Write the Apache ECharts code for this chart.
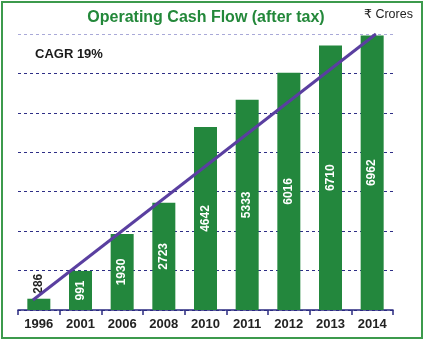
<!DOCTYPE html>
<html>
<head>
<meta charset="utf-8">
<script src="https://cdn.jsdelivr.net/npm/echarts@6/dist/echarts.min.js"></script>
<style>
html,body{margin:0;padding:0;background:#fff;}
#chart{width:425px;height:342px;}
</style>
</head>
<body>
<div id="chart"></div>
<script>
const categories = ['1996','2001','2006','2008','2010','2011','2012','2013','2014'];
const cashFlow = [286, 991, 1930, 2723, 4642, 5333, 6016, 6710, 6962];
const trendX = [-0.14, 8.09];
const trendY = [254, 7000];
const titleText = 'Operating Cash Flow (after tax)';
const unitText = '₹ Crores';
const cagrText = 'CAGR 19%';

const FONT = '"Liberation Sans", Arial, "DejaVu Sans", sans-serif';
const chart = echarts.init(document.getElementById('chart'), null, {renderer: 'canvas'});

const gridColors = ['#2e2e86','#2e2e86','#2e2e86','#2e2e86','#2e2e86','#2e2e86','#2e2e86','#a9a9d8'];

const barData = cashFlow.map((v, i) => i === 0 ? {
  value: v,
  label: {position: 'top', color: '#222', align: 'left', verticalAlign: 'middle', distance: 5}
} : v);

chart.setOption({
  animation: false,
  backgroundColor: '#ffffff',
  title: [
    {text: titleText, left: 206, textAlign: 'center', top: 10, padding: 0,
     textStyle: {color: '#23883a', fontSize: 16, fontWeight: 'bold', fontFamily: FONT}},
    {text: unitText, left: 364, top: 8, padding: 0,
     textStyle: {color: '#222', fontSize: 12.5, fontWeight: 'normal', fontFamily: FONT}},
    {text: cagrText, left: 35, top: 48, padding: 0,
     textStyle: {color: '#1a1a1a', fontSize: 13, fontWeight: 'bold', fontFamily: FONT}}
  ],
  graphic: [{
    type: 'rect', shape: {x: 2, y: 2, width: 420, height: 336},
    style: {fill: 'none', stroke: '#3c9a4c', lineWidth: 2}, silent: true, z: 100
  }],
  grid: {left: 18, right: 32, top: 34, bottom: 32},
  xAxis: [
    {type: 'category', data: categories, boundaryGap: true,
     axisLine: {lineStyle: {color: '#2a2a80', width: 1.5}},
     axisTick: {show: true, length: 5, lineStyle: {color: '#2a2a80', width: 1.5}},
     axisLabel: {color: '#222', fontSize: 13, fontWeight: 'bold', fontFamily: FONT, margin: 8},
     splitLine: {show: false}},
    {type: 'value', min: -0.5, max: 8.5, show: false}
  ],
  yAxis: {type: 'value', min: 0, max: 7000, interval: 1000,
    axisLine: {show: false}, axisTick: {show: false}, axisLabel: {show: false},
    splitLine: {show: true, lineStyle: {color: gridColors, type: [3, 3], width: 1}}},
  series: [
    {type: 'bar', data: barData, barWidth: 23, xAxisIndex: 0,
     itemStyle: {color: '#23873d'},
     label: {show: true, position: 'inside', rotate: 90, color: '#fff',
       fontSize: 12, fontWeight: 'bold', fontFamily: FONT},
     z: 2},
    {type: 'line', xAxisIndex: 1, data: trendX.map((x, i) => [x, trendY[i]]),
     symbol: 'none', lineStyle: {color: '#5a3fa0', width: 3}, z: 3, silent: true}
  ]
});
</script>
</body>
</html>
